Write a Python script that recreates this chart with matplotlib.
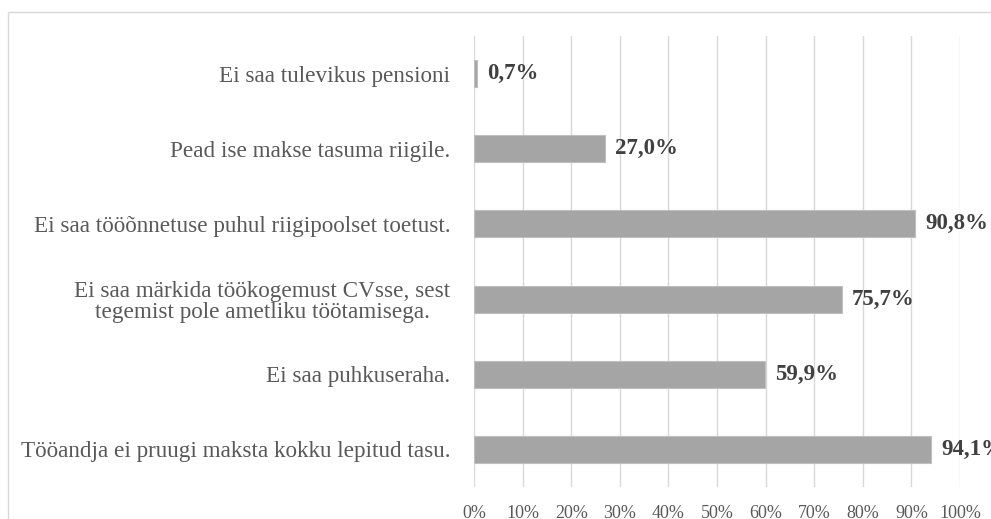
import matplotlib.pyplot as plt
from matplotlib.patches import Rectangle

kategooriad = [
    'Ei saa tulevikus pensioni',
    'Pead ise makse tasuma riigile.',
    'Ei saa tööõnnetuse puhul riigipoolset toetust.',
    'Ei saa märkida töökogemust CVsse, sest\ntegemist pole ametliku töötamisega.',
    'Ei saa puhkuseraha.',
    'Tööandja ei pruugi maksta kokku lepitud tasu.',
]
protsendid = [0.7, 27.0, 90.8, 75.7, 59.9, 94.1]
sildid = ['0,7%', '27,0%', '90,8%', '75,7%', '59,9%', '94,1%']
xticks = [0, 10, 20, 30, 40, 50, 60, 70, 80, 90, 100]

plt.rcParams['font.family'] = ['Liberation Serif', 'DejaVu Serif']

W, H = 991, 519
fig = plt.figure(figsize=(W / 100, H / 100), dpi=100)
fig.patches.append(Rectangle((8 / W, -0.1), 1.2, 1 - 12 / H + 0.1,
                             transform=fig.transFigure, fill=False,
                             edgecolor='#d9d9d9', linewidth=1))

ax = fig.add_axes([474 / W, 1 - 487 / H, (960 - 474) / W, (487 - 36) / H])
y = list(range(len(kategooriad)))[::-1]
ax.barh(y, protsendid, height=0.36, color='#a5a5a5', edgecolor='#bfbfbf', linewidth=0.8, zorder=2)

for yi, v, s in zip(y, protsendid, sildid):
    ax.text(v + 2.0, yi, s, va='center', ha='left', fontsize=16.5, fontweight='bold',
            color='#404040', clip_on=False)

ax.set_xlim(0, 100)
ax.set_ylim(-0.5, len(kategooriad) - 0.5)
ax.set_xticks(xticks)
ax.set_xticklabels([f'{t}%' for t in xticks], fontsize=13, color='#595959')
ax.set_yticks(y)
ax.set_yticklabels(kategooriad, fontsize=16.7, color='#595959', multialignment='center')
for lab in ax.get_yticklabels():
    lab.set_linespacing(1.0)
ax.tick_params(axis='both', length=0)
ax.tick_params(axis='x', pad=13)
ax.tick_params(axis='y', pad=17)
ax.grid(axis='x', color='#d9d9d9', linewidth=1, zorder=0)
for sp in ax.spines.values():
    sp.set_visible(False)

fig.savefig('out.png', dpi=100)
